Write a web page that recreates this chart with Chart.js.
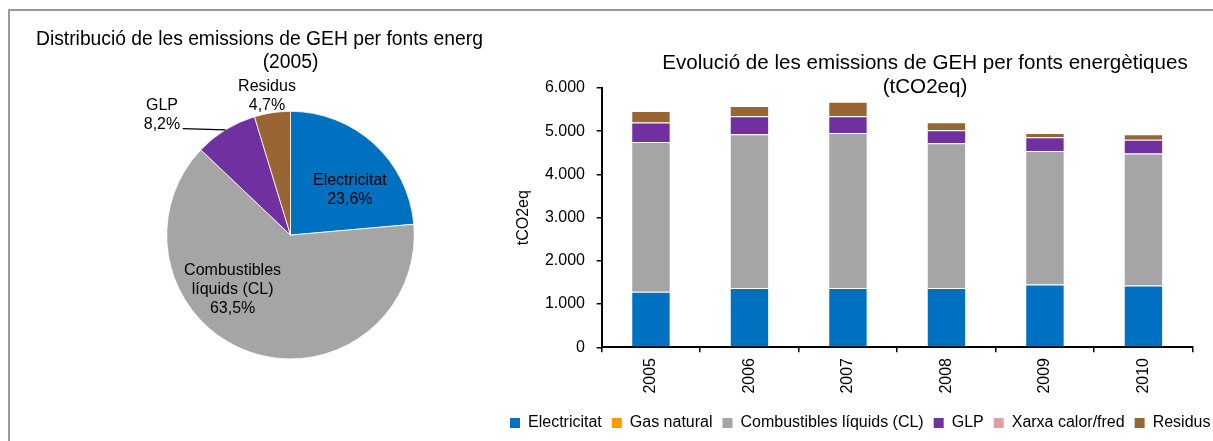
<!DOCTYPE html>
<html>
<head>
<meta charset="utf-8">
<script src="https://cdn.jsdelivr.net/npm/chart.js@4.4.1/dist/chart.umd.min.js"></script>
<style>
  html, body { margin: 0; padding: 0; background: #fff; }
  body { width: 1213px; height: 441px; overflow: hidden; position: relative; }
  #frame { position: absolute; left: 8px; top: 9px; width: 1300px; height: 500px;
           border-top: 2px solid #9a9a9a; border-left: 2px solid #9a9a9a; }
  #pieBox { position: absolute; left: 10px; top: 12px; width: 473px; height: 429px; overflow: hidden; }
  #pieBox canvas { position: absolute; left: 0; top: 0; }
  #barCanvas { position: absolute; left: 500px; top: 0; }
</style>
</head>
<body>
<div id="frame"></div>
<div id="pieBox"><canvas id="pieCanvas" width="561" height="429"></canvas></div>
<canvas id="barCanvas" width="850" height="441"></canvas>
<script>
// ---------- data ----------
const years = ['2005', '2006', '2007', '2008', '2009', '2010'];
const seriesNames = ['Electricitat', 'Gas natural', 'Combustibles líquids (CL)', 'GLP', 'Xarxa calor/fred', 'Residus'];
const electricitat = [1285, 1375, 1375, 1375, 1455, 1430];
const gasNatural   = [0, 0, 0, 0, 0, 0];
const combustibles = [3465, 3555, 3585, 3345, 3090, 3055];
const glp          = [450, 415, 385, 305, 315, 320];
const xarxa        = [0, 0, 0, 0, 0, 0];
const residus      = [265, 240, 335, 180, 100, 125];
const yTickLabels  = ['0', '1.000', '2.000', '3.000', '4.000', '5.000', '6.000'];

const pieCategories = ['Electricitat', 'Combustibles líquids (CL)', 'GLP', 'Residus'];
const pieValues     = [23.6, 63.5, 8.2, 4.7];
const pieLabelLines = [['Electricitat'], ['Combustibles', 'líquids (CL)'], ['GLP'], ['Residus']];

const pieTitle = ['Distribució de les emissions de GEH per fonts energètiques', '(2005)'];
const barTitle = ['Evolució de les emissions de GEH per fonts energètiques', '(tCO2eq)'];
const yTitle = 'tCO2eq';

// ---------- styles ----------
const FAMILY = "'Liberation Sans', Arial, sans-serif";
Chart.defaults.font.family = FAMILY;
Chart.defaults.color = '#000';
const colors = {
  'Electricitat': '#0070C0',
  'Gas natural': '#FF9900',
  'Combustibles líquids (CL)': '#A5A5A5',
  'GLP': '#7030A0',
  'Xarxa calor/fred': '#E0A0A0',
  'Residus': '#996633'
};
// label offsets relative to each slice's mid point (style only)
const pieLabelOffsets = [[17.6, 0.9], [-37.5, -3.5], [-96, -67.5], [-14.4, -78]];
const pieLeaderStart  = [null, null, [20.7, 13.7], null];

function fmtPct(v) { return v.toFixed(1).replace('.', ',') + '%'; }

const pieLabelPlugin = {
  id: 'pieLabels',
  afterDatasetsDraw(chart) {
    const ctx = chart.ctx;
    const meta = chart.getDatasetMeta(0);
    ctx.save();
    ctx.font = '16px ' + FAMILY;
    ctx.fillStyle = '#000';
    ctx.textAlign = 'center';
    ctx.textBaseline = 'middle';
    const lh = 19;
    meta.data.forEach((arc, i) => {
      const p = arc.tooltipPosition();
      const cx = p.x + pieLabelOffsets[i][0];
      const cy = p.y + pieLabelOffsets[i][1];
      const lines = pieLabelLines[i].concat([fmtPct(pieValues[i])]);
      lines.forEach((t, k) => ctx.fillText(t, cx, cy + (k - (lines.length - 1) / 2) * lh));
      if (pieLeaderStart[i]) {
        const a = arc.getProps(['x', 'y', 'startAngle', 'endAngle', 'outerRadius']);
        const mid = (a.startAngle + a.endAngle) / 2;
        ctx.beginPath();
        ctx.strokeStyle = '#000';
        ctx.lineWidth = 1.2;
        ctx.moveTo(cx + pieLeaderStart[i][0], cy + pieLeaderStart[i][1]);
        ctx.lineTo(a.x + Math.cos(mid) * a.outerRadius, a.y + Math.sin(mid) * a.outerRadius);
        ctx.stroke();
      }
    });
    ctx.restore();
  }
};

new Chart(document.getElementById('pieCanvas'), {
  type: 'pie',
  data: {
    labels: pieCategories,
    datasets: [{
      data: pieValues,
      backgroundColor: pieCategories.map(c => colors[c]),
      borderColor: '#ffffff',
      borderWidth: 0.8
    }]
  },
  options: {
    responsive: false,
    animation: false,
    layout: { padding: { top: 0, bottom: 81.7, left: 0, right: 0 } },
    plugins: {
      legend: { display: false },
      tooltip: { enabled: false },
      title: {
        display: true,
        text: pieTitle,
        color: '#000',
        font: { size: 19.3, weight: 'normal', lineHeight: 1.19 },
        padding: { top: 16.5, bottom: 36.5 }
      }
    }
  },
  plugins: [pieLabelPlugin]
});

const seriesData = [electricitat, gasNatural, combustibles, glp, xarxa, residus];

new Chart(document.getElementById('barCanvas'), {
  type: 'bar',
  data: {
    labels: years,
    datasets: seriesNames.map((n, i) => ({
      label: n,
      data: seriesData[i],
      backgroundColor: colors[n],
      borderColor: 'rgba(255,255,255,0.45)',
      borderWidth: 1,
      categoryPercentage: 1,
      barPercentage: 0.4
    }))
  },
  options: {
    responsive: false,
    animation: false,
    plugins: {
      tooltip: { enabled: false },
      title: {
        display: true,
        text: barTitle,
        color: '#000',
        font: { size: 20.6, weight: 'normal', lineHeight: 1.17 },
        padding: { top: 51.5, bottom: -11.7 }
      },
      legend: {
        position: 'bottom',
        align: 'start',
        labels: {
          boxWidth: 10,
          boxHeight: 10,
          padding: 10,
          color: '#000',
          font: { size: 16 },
          generateLabels(chart) {
            return Chart.defaults.plugins.legend.labels.generateLabels(chart)
              .map(l => Object.assign(l, { lineWidth: 0 }));
          }
        }
      }
    },
    scales: {
      x: {
        stacked: true,
        grid: { display: true, drawOnChartArea: false, drawTicks: true, tickLength: 5, color: '#000', lineWidth: 1.5, offset: true },
        border: { display: true, color: '#000', width: 2 },
        ticks: { autoSkip: false, minRotation: 90, maxRotation: 90, padding: 5.7, font: { size: 16 }, color: '#000' },
        afterFit(s) { s.height = 57.7; }
      },
      y: {
        stacked: true,
        min: 0,
        max: 6000,
        grid: { display: true, drawOnChartArea: false, drawTicks: true, tickLength: 5, color: '#000', lineWidth: 1.5 },
        border: { display: true, color: '#000', width: 2 },
        ticks: { stepSize: 1000, padding: 11.7, font: { size: 16 }, color: '#000',
                 callback: (v, i) => yTickLabels[i] },
        title: { display: true, text: yTitle, color: '#000', font: { size: 16 }, padding: { top: 14.4, bottom: 0 } },
        afterFit(s) { s.width = 101.7; }
      },
      y2: {
        position: 'right',
        display: true,
        grid: { display: false },
        border: { display: false },
        ticks: { display: false },
        afterFit(s) { s.width = 157.3; }
      }
    }
  }
});
</script>
</body>
</html>
